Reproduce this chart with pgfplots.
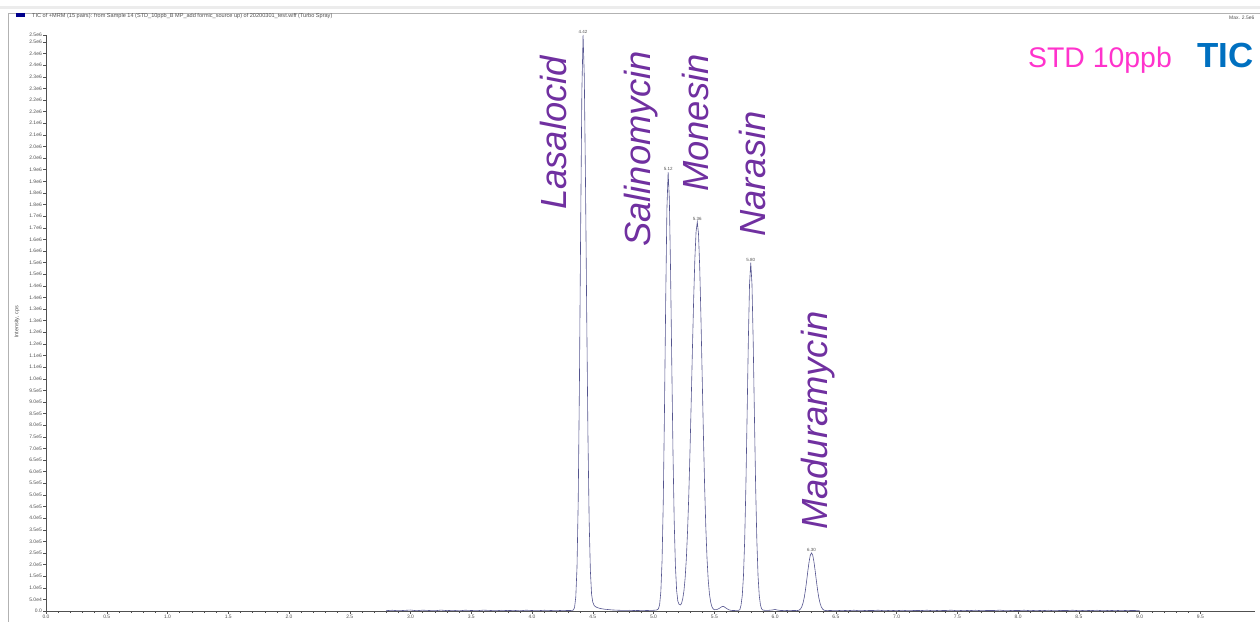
\documentclass[border=0pt]{standalone}
\usepackage{pgfplots}
\pgfplotsset{compat=1.18}
\usepackage{fontspec}
\setmainfont{Liberation Sans}
\definecolor{cpurple}{HTML}{7030A0}
\definecolor{cmagenta}{HTML}{FF33CC}
\definecolor{cblue}{HTML}{0070C0}
\definecolor{trace}{HTML}{55558F}
\definecolor{axgray}{HTML}{505050}
\begin{document}
\begin{tikzpicture}[x=1bp,y=1bp]
\begin{axis}[
  at={(46bp,11bp)}, anchor=south west,
  scale only axis, width=1209bp, height=576bp,
  xmin=0, xmax=9.95, ymin=0, ymax=2480000,
  scaled x ticks=false, scaled y ticks=false,
  axis x line=bottom, axis y line=left,
  axis line style={-, draw=axgray, line width=0.5bp},
  tick align=outside, major tick length=3bp, minor tick length=1.6bp,
  tick style={axgray, line width=0.4bp},
  xtick={0,0.5,1,1.5,2,2.5,3,3.5,4,4.5,5,5.5,6,6.5,7,7.5,8,8.5,9,9.5},
  xticklabels={0.0,0.5,1.0,1.5,2.0,2.5,3.0,3.5,4.0,4.5,5.0,5.5,6.0,6.5,7.0,7.5,8.0,8.5,9.0,9.5},
  minor x tick num=4,
  ytick={0,50000,100000,150000,200000,250000,300000,350000,400000,450000,500000,550000,600000,650000,700000,750000,800000,850000,900000,950000,1000000,1050000,1100000,1150000,1200000,1250000,1300000,1350000,1400000,1450000,1500000,1550000,1600000,1650000,1700000,1750000,1800000,1850000,1900000,1950000,2000000,2050000,2100000,2150000,2200000,2250000,2300000,2350000,2400000,2450000,2480000},
  yticklabels={0.0,5.0e4,1.0e5,1.5e5,2.0e5,2.5e5,3.0e5,3.5e5,4.0e5,4.5e5,5.0e5,5.5e5,6.0e5,6.5e5,7.0e5,7.5e5,8.0e5,8.5e5,9.0e5,9.5e5,1.0e6,1.1e6,1.1e6,1.2e6,1.2e6,1.3e6,1.3e6,1.4e6,1.4e6,1.5e6,1.5e6,1.6e6,1.6e6,1.7e6,1.7e6,1.8e6,1.8e6,1.9e6,1.9e6,2.0e6,2.0e6,2.1e6,2.1e6,2.2e6,2.2e6,2.3e6,2.3e6,2.4e6,2.4e6,2.5e6,2.5e6},
  ticklabel style={font=\fontsize{5}{6}\selectfont, text=axgray, inner sep=1bp},
  clip=false,
]
\addplot[trace, line width=0.6bp] coordinates {
(2.80,1500) (2.85,3200) (2.90,800) (2.95,2600) (3.00,4100) (3.05,1200) (3.10,3500) (3.15,2200) (3.20,900) (3.25,3800)
(3.30,1700) (3.35,2900) (3.40,600) (3.45,3300) (3.50,2100) (3.55,1400) (3.60,3600) (3.65,2400) (3.70,1000) (3.75,3000)
(3.80,1800) (3.85,2700) (3.90,700) (3.95,3400) (4.00,2000) (4.05,1300) (4.10,3100) (4.15,2300) (4.20,1100) (4.25,2800)
(4.30,2000) (4.33,2500) (4.34,4000) (4.35,15600) (4.36,60000) (4.37,187500) (4.38,473700) (4.39,979600) (4.40,1641800)
(4.41,2237000) (4.42,2480000) (4.43,2304000) (4.44,1845000) (4.45,1275000) (4.46,759000) (4.47,389000) (4.48,174000)
(4.49,72000) (4.50,38000) (4.51,25000) (4.52,19000) (4.54,14000) (4.56,11000) (4.58,9000) (4.60,7500) (4.63,6000)
(4.66,4500) (4.70,3500) (4.75,2500) (4.80,3000) (4.85,1800) (4.90,2600) (4.95,2200) (5.00,3000) (5.02,4000)
(5.03,5000) (5.04,9300) (5.05,26900) (5.06,83000) (5.07,216000) (5.08,471000) (5.09,866000) (5.10,1336000) (5.11,1733000)
(5.12,1890000) (5.13,1773000) (5.14,1465000) (5.15,1064000) (5.16,681000) (5.17,386000) (5.18,193000) (5.19,88000)
(5.20,42000) (5.21,29000) (5.22,26000) (5.23,32000) (5.24,52000) (5.25,86000) (5.26,142000) (5.27,227000) (5.28,345000)
(5.29,499000) (5.30,688000) (5.31,903000) (5.32,1129000) (5.33,1341000) (5.34,1517000) (5.35,1634000) (5.36,1675000)
(5.37,1623000) (5.38,1478000) (5.39,1265000) (5.40,1016000) (5.41,767000) (5.42,544000) (5.43,362000) (5.44,227000)
(5.45,133000) (5.46,73500) (5.47,38200) (5.48,18600) (5.49,9500) (5.50,5500) (5.52,6000) (5.54,11000) (5.56,18000)
(5.57,20000) (5.58,18500) (5.60,11000) (5.62,5000) (5.64,2500) (5.66,2000) (5.68,2800) (5.70,3000) (5.71,5500)
(5.72,25000) (5.73,66000) (5.74,151000) (5.75,305000) (5.76,540000) (5.77,845000) (5.78,1162000) (5.79,1407000)
(5.80,1500000) (5.81,1407000) (5.82,1162000) (5.83,845000) (5.84,540000) (5.85,305000) (5.86,151000) (5.87,66000)
(5.88,25000) (5.89,8600) (5.90,4000) (5.92,2500) (5.95,3000) (5.98,4500) (6.00,6500) (6.02,4000) (6.05,2000)
(6.08,2600) (6.12,1500) (6.15,2200) (6.18,1800) (6.19,2500) (6.20,4200) (6.21,9200) (6.22,18300) (6.23,34000)
(6.24,57500) (6.25,90000) (6.26,130000) (6.27,173000) (6.28,212000) (6.29,240000) (6.30,250000) (6.31,240000)
(6.32,212000) (6.33,173000) (6.34,130000) (6.35,90000) (6.36,57500) (6.37,34000) (6.38,18300) (6.39,9200) (6.40,4200)
(6.41,2500) (6.43,1500) (6.45,2200) (6.50,1200) (6.55,2800) (6.60,1600) (6.65,3200) (6.70,900) (6.75,2500) (6.80,1900)
(6.85,3400) (6.90,1100) (6.95,2700) (7.00,1500) (7.05,3000) (7.10,800) (7.15,2400) (7.20,1800) (7.25,3300) (7.30,1200)
(7.35,2600) (7.40,2000) (7.45,3500) (7.50,1000) (7.55,2900) (7.60,1700) (7.65,3100) (7.70,1300) (7.75,2300) (7.80,2100)
(7.85,3600) (7.90,900) (7.95,2500) (8.00,1900) (8.05,3200) (8.10,1400) (8.15,2800) (8.20,1600) (8.25,3000) (8.30,1100)
(8.35,2400) (8.40,2000) (8.45,3300) (8.50,1200) (8.55,2700) (8.60,1800) (8.65,3100) (8.70,1000) (8.75,2600) (8.80,1500)
(8.85,2900) (8.90,1700) (8.95,2300) (9.00,1200)
};
\begin{scope}[every node/.style={font=\fontsize{4.5}{5}\selectfont, text=axgray, anchor=south, inner sep=0.8bp}]
\node at (axis cs:4.42,2480000) {4.42};
\node at (axis cs:5.12,1890000) {5.12};
\node at (axis cs:5.36,1675000) {5.36};
\node at (axis cs:5.80,1500000) {5.80};
\node at (axis cs:6.30,250000) {6.30};
\end{scope}
\end{axis}
% window frame
\fill[gray!15] (0,612.5) rectangle (1260,615.5);
\draw[gray!60, line width=0.8bp] (8,609) -- (1260,609);
\draw[gray!60, line width=0.8bp] (8,609) -- (8,0);
\fill[blue!55!black] (16,604.5) rectangle (25,609);
\node[anchor=west, inner sep=0, font=\fontsize{5.6}{6.5}\selectfont, text=axgray] at (32,605.5) {TIC of +MRM (15 pairs): from Sample 14 (STD\_10ppb\_B MP\_add formic\_source up) of 20200301\_test.wiff (Turbo Spray)};
\node[anchor=west, inner sep=0, font=\fontsize{5}{6}\selectfont, text=axgray] at (1229,604.5) {Max. 2.5e6};
\node[rotate=90, inner sep=0, font=\fontsize{5.5}{6}\selectfont, text=axgray] at (17,300) {Intensity, cps};
% compound names
\begin{scope}[every node/.style={rotate=90, anchor=base west, inner sep=0, text=cpurple, font=\fontsize{36.5}{40}\selectfont\itshape}]
\node at (566,412) {Lasalocid};
\node at (650,375) {Salinomycin};
\node at (708,430) {Monesin};
\node at (765,385) {Narasin};
\node at (827,92) {Maduramycin};
\end{scope}
\node[anchor=base west, inner sep=0, text=cmagenta, font=\fontsize{28.5}{32}\selectfont] at (1028,554) {STD 10ppb};
\node[anchor=base west, inner sep=0, text=cblue, font=\fontsize{35}{38}\selectfont\bfseries] at (1197,554) {TIC};
\pgfresetboundingbox
\path[use as bounding box] (0,0) rectangle (1260,622);
\end{tikzpicture}
\end{document}
